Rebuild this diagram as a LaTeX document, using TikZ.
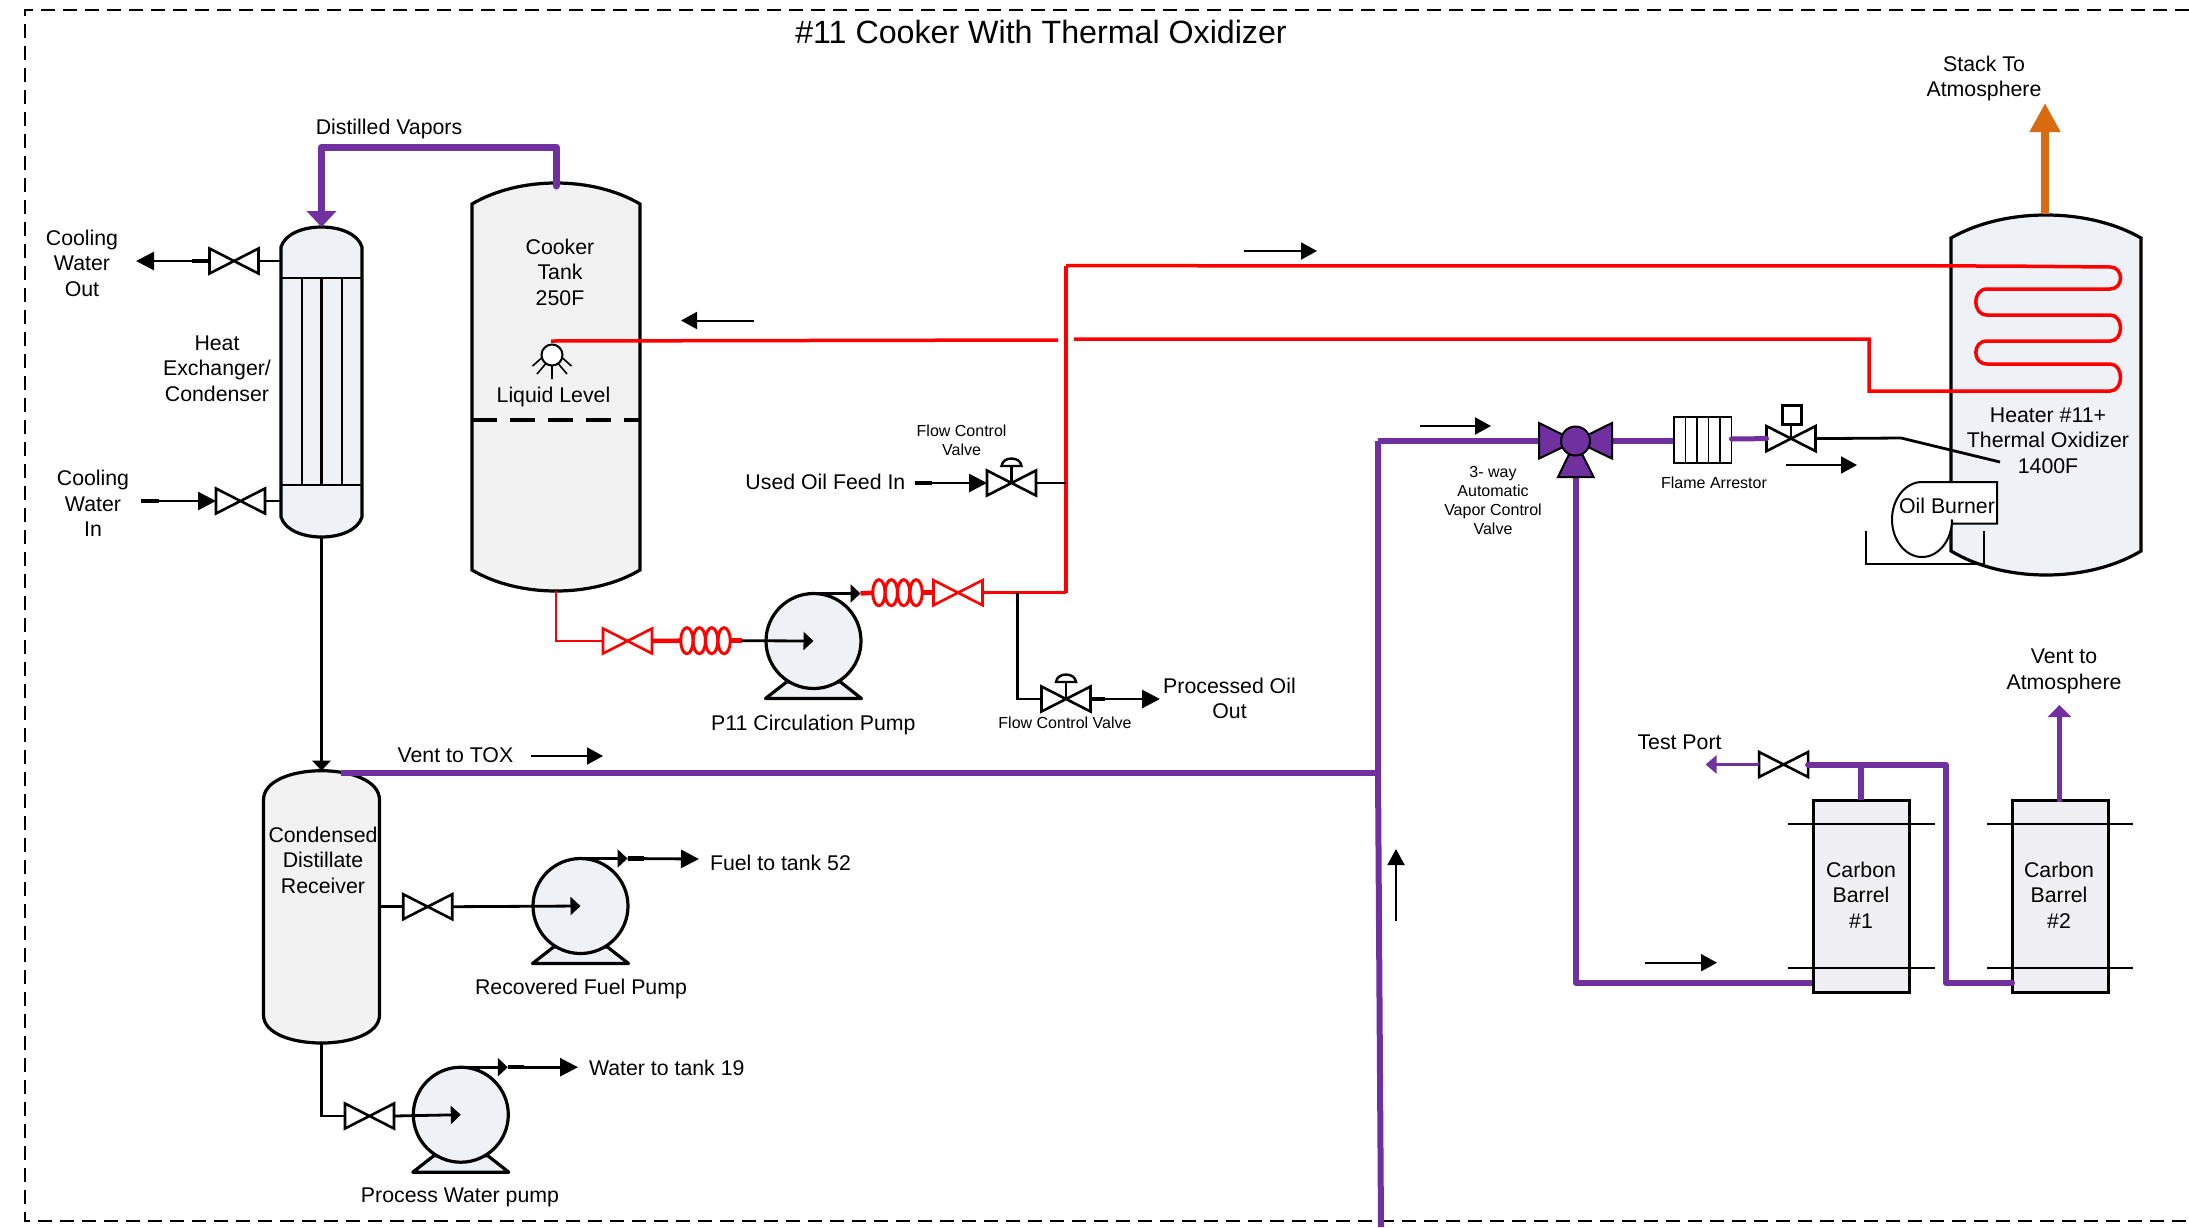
\documentclass[tikz,border=0pt]{standalone}
\usepackage{fontspec}
\setmainfont{Liberation Sans}
\usetikzlibrary{arrows.meta,calc}
\definecolor{pipepurple}{HTML}{7030A0}
\definecolor{stackorange}{HTML}{D96B0E}
\definecolor{shellblue}{HTML}{EEF1F6}
\definecolor{tankgray}{HTML}{F2F2F2}
\definecolor{barrelgray}{HTML}{F0EFF4}
\tikzset{
  lbl/.style={inner sep=0pt,outer sep=0pt,align=center,font=\fontsize{21.3}{25.5}\selectfont},
  lblsmall/.style={inner sep=0pt,outer sep=0pt,align=center,font=\fontsize{16}{19}\selectfont},
  blk/.style={draw=black,line width=2.8pt},
  thin blk/.style={draw=black,line width=1.6pt},
  stub/.style={draw=black,line width=4.5pt},
  redpipe/.style={draw=red,line width=3.5pt,line join=miter},
  purp/.style={draw=pipepurple,line width=6pt,line join=round,line cap=round},
  vesselline/.style={draw=black,line width=3.2pt},
  vbox/.style={inner sep=0pt,outer sep=0pt,minimum width=49pt,minimum height=25pt},
  flexbox/.style={inner sep=0pt,outer sep=0pt,minimum width=49pt,minimum height=26pt},
  headS/.style={-{Triangle[length=10pt,width=18pt]}},
  headM/.style={-{Triangle[length=18pt,width=18pt]}},
  flowarrowline/.style={draw=black,line width=2pt,-{Triangle[length=16pt,width=17pt]}},
}
\newcommand\vessel[9]{% name fill xl xr ytop ysh ybs ybot frac
  \pgfmathsetmacro\vm{(#3+#4)/2}
  \pgfmathsetmacro\vd{(#4-#3)*#9}
  \pgfmathsetmacro\vt{#6-(#6-#5)*4/3}
  \pgfmathsetmacro\vb{#7+(#8-#7)*4/3}
  \coordinate (#1-top) at (\vm,#5);
  \coordinate (#1-bot) at (\vm,#8);
  \draw[vesselline,fill=#2] (#3,#6) .. controls ({#3+\vd},\vt) and ({#4-\vd},\vt) .. (#4,#6)
     -- (#4,#7) .. controls ({#4-\vd},\vb) and ({#3+\vd},\vb) .. (#3,#7) -- cycle;
}
\newcommand\valve[3][black]{%
  \node[vbox] (#2) at (#3) {};
  \draw[draw=#1,line width=2.6pt,fill=white,line join=miter]
    (#2.north west) -- (#2.south east) -- (#2.north east) -- (#2.south west) -- cycle;
}
\newcommand\dome[1]{% flow-control actuator above the valve node #1
  \coordinate (#1-act) at ($(#1.center)+(0,-17)$);
  \draw[blk] (#1.center) -- (#1-act);
  \draw[draw=black,line width=2.4pt,fill=white] ($(#1-act)+(-10,0)$) .. controls ($(#1-act)+(-9,-10)$) and ($(#1-act)+(9,-10)$) .. ($(#1-act)+(10,0)$) -- cycle;
}
\newcommand\flex[2]{%
  \node[flexbox] (#1) at (#2) {};
  \foreach \dx in {-18.6,-6.2,6.2,18.6}{
    \draw[draw=red,line width=3pt] ($(#1.center)+(\dx,0)$) ellipse (6.2pt and 13pt);
  }
}
\newcommand\pump[3]{% name cx cy
  \draw[vesselline,fill=shellblue,line join=round] (#2-48,#3+57.5) -- (#2-27,#3+41) -- (#2+27,#3+41) -- (#2+48,#3+57.5) -- cycle;
  \node[circle,draw=black,line width=3.2pt,fill=shellblue,minimum size=95pt,inner sep=0pt,outer sep=0pt] (#1) at (#2,#3) {};
  \coordinate (#1-out) at (#2+47,#3-47.5);
}
\newcommand\flowmark[4]{% name x1 y x2
  \coordinate (#1-a) at (#2,#3);
  \coordinate (#1-b) at (#4,#3);
  \draw[flowarrowline] (#1-a) -- (#1-b);
}
\begin{document}
\begin{tikzpicture}[x=1pt,y=-1pt]
\useasboundingbox (0,0) rectangle (2189,1227);
\fill[white] (0,0) rectangle (2189,1227);

% frame
\coordinate (fr-a) at (2189,10);
\coordinate (fr-b) at (25,10);
\coordinate (fr-c) at (25,1221);
\coordinate (fr-d) at (2189,1221);
\draw[draw=black,line width=1.8pt,dash pattern=on 14pt off 8pt] (fr-a) -- (fr-b) -- (fr-c) -- (fr-d);
\node[lbl,font=\fontsize{32.2}{38}\selectfont] (title) at (1041,32) {\#11 Cooker With Thermal Oxidizer};

% heat exchanger
\vessel{he}{shellblue}{281}{362}{227}{247}{517}{537}{.1}
\foreach \yy in {278,485}{\draw[draw=black,line width=2.8pt] (281,\yy) -- (362,\yy);}
\foreach \xx in {302,321.5,342}{\draw[draw=black,line width=2.8pt] (\xx,278) -- (\xx,485);}
\node[lbl] (helabel) at (217,368.5) {Heat\\Exchanger/\\Condenser};

% cooker tank
\vessel{cook}{tankgray}{472}{640}{183}{204}{570}{591}{.28}
\coordinate (cook-l) at (472,420);
\coordinate (cook-r) at (640,420);
\draw[draw=black,line width=3.5pt,dash pattern=on 25pt off 13pt] (cook-l) -- (cook-r);
\node[lbl] (cooklabel) at (560,272) {Cooker\\Tank\\250F};
\node[lbl] (levellabel) at (553.5,397.4) {Liquid Level};
% level sensor
\node[circle,draw=black,line width=2pt,fill=white,minimum size=21pt,inner sep=0pt] (level) at (552,355) {};
\foreach \xa/\ya/\xb/\yb in {552/365/552/379, 541.5/358/532.5/366, 545.5/364/537/374, 562.5/358/571.5/366, 558.5/364/567/374}{
  \draw[thin blk] (\xa,\ya) -- (\xb,\yb);
}

% distilled vapours
\node[lbl] (vapors) at (389,129.4) {Distilled Vapors};
\draw[purp,line width=7pt,-{Triangle[length=16pt,width=29pt]}] (cook-top) ++(0,3) -- ++(0,-39) -| (he-top);

% cooling water
\node[lbl] (cwout) at (82,263) {Cooling\\Water\\Out};
\node[lbl] (cwin) at (93,503.5) {Cooling\\Water\\In};
\valve{vcwo}{234,261}
\valve{vcwi}{240.5,501}
\coordinate (cwo-end) at (136,261);
\coordinate (cwi-start) at (141,501);
\coordinate (he-o) at (281,261);
\coordinate (he-i) at (281,501);
\draw[blk] (vcwo.east) -- (he-o);
\draw[blk] (vcwi.east) -- (he-i);
\draw[blk,headM] (vcwo.west) -- (cwo-end);
\draw[stub] (vcwo.west) -- ++(-18,0);
\draw[blk,headM] (cwi-start) -- (vcwi.west);
\draw[stub] (cwi-start) -- ++(18,0);

% condensate receiver
\vessel{rec}{tankgray}{263.5}{379.5}{770.7}{800}{1015}{1043}{0}
\node[lbl] (reclabel) at (323,860) {Condensed\\Distillate\\Receiver};
\draw[blk,-{Triangle[length=10pt,width=18pt]}] (he-bot) -- (rec-top);

% vent to TOX
\node[lbl] (ventlabel) at (455.4,755) {Vent to TOX};
\flowmark{fm1}{531}{756}{603}
\coordinate (vt-a) at (341,773);
\coordinate (vt-b) at (1378,773);
\coordinate (vt-c) at (1378,441);
\coordinate (vt-d) at (1381,1227);
\draw[purp,line cap=butt] (vt-a) -- (vt-b);
\draw[purp,line cap=butt] (vt-d) -- (vt-b) -- (vt-c);

% recovered fuel pump
\valve{vrf}{427.7,906.7}
\coordinate (rec-r1) at (379.5,906.7);
\draw[blk] (rec-r1) -- (vrf.west);
\pump{prf}{580.5}{906}
\draw[blk,headS] (vrf.east) -- (prf.center);
\draw[blk,headS] (prf.north) -- (prf-out);
\coordinate (fuel-end) at (699,859);
\draw[blk,headM] (prf-out) -- (fuel-end);
\draw[stub] (prf-out) -- ++(16,0);
\node[lbl,anchor=west] (fuel) at (710,862.5) {Fuel to tank 52};
\node[lbl] (prflabel) at (581,989.4) {Recovered Fuel Pump};

% process water pump
\valve{vpw}{369.5,1116}
\coordinate (rec-bend) at (321.5,1116);
\draw[blk] (rec-bot) -- (rec-bend) -- (vpw.west);
\pump{ppw}{460.8}{1114.7}
\draw[blk,headS] (vpw.east) -- (ppw.center);
\draw[blk,headS] (ppw.north) -- (ppw-out);
\coordinate (water-end) at (578,1067.2);
\draw[blk,headM] (ppw-out) -- (water-end);
\draw[stub] (ppw-out) -- ++(16,0);
\node[lbl,anchor=west] (water) at (589,1068) {Water to tank 19};
\node[lbl] (ppwlabel) at (460,1197.4) {Process Water pump};

% red circuit
\coordinate (r-top) at (1066,265.7);
\coordinate (r-bend) at (1066,592.7);
\coordinate (r-lvl) at (551,341);
\coordinate (r-gapa) at (1058,340);
\coordinate (r-gapb) at (1074,339);
\coordinate (r-drop) at (1869,339);
\coordinate (r-base) at (1869,391);
\coordinate (cook-out) at (556,591);
\coordinate (cook-b) at (556,641);

% heater vessel
\vessel{heat}{shellblue}{1951}{2141}{215}{238}{551}{575}{.28}
\draw[redpipe] (r-top) -- (2000,266) -- (2110,267) .. controls (2124,267) and (2124,289) .. (2110,289)
   -- (1987,289) .. controls (1972,289) and (1972,315) .. (1987,315)
   -- (2110,315) .. controls (2124,315) and (2124,341) .. (2110,341)
   -- (1987,341) .. controls (1972,341) and (1972,364) .. (1987,364)
   -- (2110,364) .. controls (2124,364) and (2124,391) .. (2110,391)
   -- (r-base) -- (r-drop) -- (r-gapb);
\draw[redpipe] (r-lvl) -- (r-gapa);
\draw[redpipe] (r-top) -- (r-bend);
\flowmark{fm2}{1244}{251}{1317}
\flowmark{fm3}{754}{320.5}{681}

% stack
\coordinate (stack-tip) at (2045,103);
\coordinate (stack-base) at (2045,214);
\draw[draw=stackorange,line width=8pt,-{Triangle[length=29pt,width=29pt]}] (stack-base) -- (stack-tip);
\node[lbl] (stacklabel) at (1984,78.4) {Stack To\\Atmosphere};
\node[lbl] (heatlabel) at (2048,440.5) {Heater \#11+\\Thermal Oxidizer\\1400F};

% oil burner
\coordinate (st-a) at (1866,531);
\coordinate (st-b) at (1866,564);
\coordinate (st-c) at (1984,564);
\coordinate (st-d) at (1984,531);
\draw[draw=black,line width=2pt,fill=white] (1922,482) .. controls (1905.4,482) and (1892,498.8) .. (1892,519.5)
   .. controls (1892,540.2) and (1905.4,557) .. (1922,557)
   .. controls (1938.6,557) and (1952,540.2) .. (1952,519.5) -- (1952,523.6) -- (1997,523.6) -- (1997,482) -- cycle;
\draw[draw=black,line width=1.8pt] (st-a) -- (st-b) -- (st-c) -- (st-d);
\node[lbl] (burner) at (1947,506) {Oil Burner};

% used oil feed
\node[lbl] (usedoil) at (825.4,482) {Used Oil Feed In};
\valve{vuo}{1011.5,483}
\dome{vuo}
\coordinate (uo-start) at (915,483);
\coordinate (uo-tee) at (1066,483);
\draw[blk,headM] (uo-start) -- (vuo.west);
\draw[stub] (uo-start) -- ++(17,0);
\draw[blk] (vuo.east) -- (uo-tee);
\node[lblsmall] (fcv1) at (961.6,440.5) {Flow Control\\Valve};

% P11 loop
\valve[red]{vr1}{627.5,641}
\flex{fx1}{705.5,640.7}
\pump{p11}{813.5}{641}
\valve[red]{vr2}{958,592.7}
\flex{fx2}{897.5,592.7}
\draw[redpipe,line width=2.6pt] (cook-out) -- (cook-b) -- (vr1.west);
\draw[redpipe,line width=4.5pt] (vr1.east) -- (fx1.west);
\coordinate (p11-in) at (741.5,640.7);
\draw[redpipe,line width=4.5pt] (fx1.east) -- (p11-in);
\draw[blk,headS] (p11-in) -- (p11.center);
\draw[blk,headS] (p11.north) -- (p11-out);
\draw[redpipe,line width=4.5pt] (p11-out) -- (fx2.west);
\draw[redpipe,line width=4.5pt] (fx2.east) -- (vr2.west);
\draw[redpipe] (vr2.east) -- (r-bend);
\node[lbl] (p11label) at (813.4,725.4) {P11 Circulation Pump};

% processed oil branch
\valve{vpo}{1066,699}
\dome{vpo}
\coordinate (po-tee) at (1017.4,592.7);
\coordinate (po-bend) at (1017.4,699);
\coordinate (po-end) at (1160,699);
\draw[blk] (po-tee) -- (po-bend) -- (vpo.west);
\draw[blk,headM] (vpo.east) -- (po-end);
\draw[stub] (vpo.east) -- ++(14,0);
\node[lblsmall] (fcv2) at (1065,722.7) {Flow Control Valve};
\node[lbl] (pooil) at (1229.5,698.5) {Processed Oil\\Out};

% 3-way valve line
\coordinate (v3-w) at (1539,441);
\coordinate (v3-e) at (1612,441);
\coordinate (v3-s) at (1575.5,477);
\coordinate (v3-c) at (1575.5,441);
\coordinate (fa-w) at (1674,441);
\coordinate (fa-e) at (1731,439);
\coordinate (bar-corner) at (1575.5,982.7);
\coordinate (bar1-in) at (1813,982.7);
\draw[purp,line cap=butt] (vt-c) -- (v3-w);
\draw[purp] (v3-e) -- (fa-w);
\draw[purp,line cap=butt] (v3-s) -- (bar-corner) -- (bar1-in);
\draw[draw=black,line width=2pt,fill=pipepurple,line join=miter] (v3-c) -- (1539,423) -- (1539,458.6) -- cycle;
\draw[draw=black,line width=2pt,fill=pipepurple,line join=miter] (v3-c) -- (1612,423) -- (1612,458.6) -- cycle;
\draw[draw=black,line width=2pt,fill=pipepurple,line join=miter] (v3-c) -- (1558,477) -- (1593.5,477) -- cycle;
\node[circle,draw=black,line width=2pt,fill=pipepurple,minimum size=29pt,inner sep=0pt] (v3) at (v3-c) {};
\flowmark{fm4}{1419.5}{426}{1491}
\node[lblsmall] (v3label) at (1493,500.5) {3- way\\Automatic\\Vapor Control\\Valve};

% flame arrestor
\node[draw=black,line width=1.8pt,fill=white,minimum width=57.5pt,minimum height=46pt,inner sep=0pt,outer sep=0pt] (arrestor) at (1702.7,440) {};
\foreach \xx in {1685.5,1697,1708.5,1720}{\draw[thin blk] (\xx,417) -- (\xx,463);}
\node[lblsmall] (falabel) at (1714,482.5) {Flame Arrestor};

% burner valve
\valve{vbu}{1791,438.6}
\node[draw=black,line width=2.4pt,fill=white,minimum width=19pt,minimum height=19pt,inner sep=0pt,outer sep=0pt] (vbu-box) at (1792,415) {};
\draw[blk] (vbu.center) -- (vbu-box.south -| vbu.center);
\draw[purp,line width=5pt] (arrestor.east) ++(0,-1) -- (vbu.west);
\coordinate (bk-a) at (1901,438);
\coordinate (bk-b) at (2000,462);
\draw[blk] (vbu.east) -- (bk-a) -- (bk-b);
\flowmark{fm5}{1786}{465}{1857}

% carbon barrels
\node[draw=black,line width=3pt,fill=barrelgray,minimum width=96.6pt,minimum height=192pt,inner sep=0pt,outer sep=0pt] (bar1) at (1861.3,896) {};
\node[draw=black,line width=3pt,fill=barrelgray,minimum width=96pt,minimum height=192pt,inner sep=0pt,outer sep=0pt] (bar2) at (2060,896) {};
\foreach \yy in {824,968}{
  \draw[blk] (1788,\yy) -- (1934.5,\yy);
  \draw[blk] (1987,\yy) -- (2133,\yy);
}
\node[lbl] (bar1label) at (1861,895) {Carbon\\Barrel\\\#1};
\node[lbl] (bar2label) at (2059,895) {Carbon\\Barrel\\\#2};
\valve{vtp}{1783.6,764.5}
\coordinate (t-corner) at (1945.6,764.5);
\coordinate (t-low) at (1945.6,982.7);
\coordinate (bar2-in) at (2012,982.7);
\coordinate (t-tee) at (1861.3,764.5);
\draw[purp] (vtp.east) -- (t-corner) -- (t-low) -- (bar2-in);
\draw[purp,line cap=butt] (t-tee) -- (bar1.north);
\coordinate (tp-end) at (1705.6,764.5);
\draw[draw=pipepurple,line width=3pt,-{Triangle[length=11pt,width=18pt]}] (vtp.west) -- (tp-end);
\node[lbl] (tplabel) at (1679.5,742.7) {Test Port};
\coordinate (bar2-top) at (2059.4,802);
\coordinate (vent2-tip) at (2059.4,705);
\draw[draw=pipepurple,line width=5pt,-{Triangle[length=12pt,width=23pt]}] (bar2-top) -- (vent2-tip);
\node[lbl] (vent2) at (2064,671.5) {Vent to\\Atmosphere};

% flow marks
\flowmark{fm6}{1645}{962.7}{1717}
\coordinate (fm7-a) at (1396,921);
\coordinate (fm7-b) at (1396,849);
\draw[flowarrowline] (fm7-a) -- (fm7-b);
\end{tikzpicture}
\end{document}
